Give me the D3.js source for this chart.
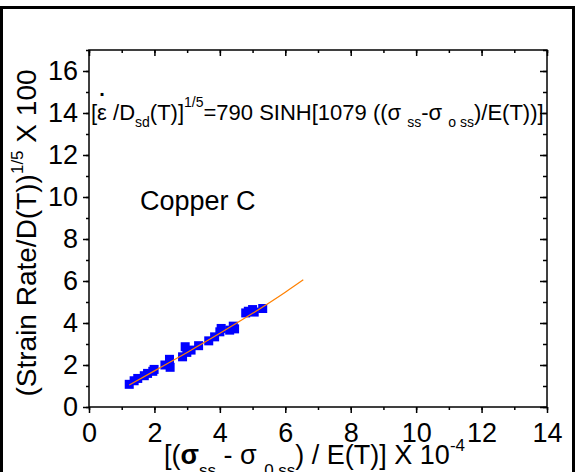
<!DOCTYPE html>
<html><head><meta charset="utf-8">
<script src="https://cdn.jsdelivr.net/npm/d3@7"></script>
<style>
html,body{margin:0;padding:0;background:#fff;}
svg{display:block;font-family:"Liberation Sans",Arial,sans-serif;}
</style></head>
<body>
<svg id="chart" width="577" height="472"></svg>
<script>
// Data
const xValues = [1.23,1.38,1.49,1.69,1.79,1.99,1.95,2.32,2.46,2.48,2.86,2.94,2.99,3.12,3.35,3.66,3.84,4.00,4.04,4.30,4.41,4.45,4.79,4.87,5.00,5.05,5.31];
const yValues = [1.08,1.25,1.36,1.49,1.60,1.79,1.70,2.00,2.27,1.89,2.39,2.87,2.60,2.71,2.92,3.15,3.34,3.58,3.74,3.66,3.85,3.72,4.48,4.56,4.64,4.52,4.69];
const fitX = [1.23,2,3,4,5,6,6.55];
const fitY = [1.05,1.72,2.60,3.51,4.46,5.47,6.06];
const xTicks = [0,2,4,6,8,10,12,14];
const yTicks = [0,2,4,6,8,10,12,14,16];
const xMinor = d3.range(0,15,1);
const yMinor = d3.range(0,18,1);

const svg = d3.select("#chart");
const L = 89, R = 547, T = 50, B = 407;
const x = d3.scaleLinear().domain([0,14]).range([L,R]);
const y = d3.scaleLinear().domain([0,17]).range([B,T]);

// outer border
svg.append("path").attr("d",`M1.5,472 V7.5 H573.5 V472`).attr("fill","none").attr("stroke","#000").attr("stroke-width",3);

// plot frame
svg.append("rect").attr("x",L).attr("y",T).attr("width",R-L).attr("height",B-T)
  .attr("fill","none").attr("stroke","#000").attr("stroke-width",1.5);

function styleAxis(g){ g.select(".domain").remove(); g.selectAll("line").attr("stroke","#000").attr("stroke-width",1.5); }

// bottom axis
svg.append("g").attr("transform",`translate(0,${B})`)
  .call(d3.axisBottom(x).tickValues(xMinor).tickSize(3).tickFormat(""))
  .call(styleAxis);
svg.append("g").attr("transform",`translate(0,${B})`)
  .call(d3.axisBottom(x).tickValues(xTicks).tickSize(6).tickPadding(10).tickFormat(d3.format("d")))
  .call(styleAxis)
  .selectAll("text").attr("font-size",27).attr("fill","#000").attr("font-family","Liberation Sans, Arial, sans-serif");
// top ticks (inward)
svg.append("g").attr("transform",`translate(0,${T})`)
  .call(d3.axisBottom(x).tickValues(xMinor).tickSize(3).tickFormat("")).call(styleAxis);
svg.append("g").attr("transform",`translate(0,${T})`)
  .call(d3.axisBottom(x).tickValues(xTicks).tickSize(6).tickFormat("")).call(styleAxis);
// left axis
svg.append("g").attr("transform",`translate(${L},0)`)
  .call(d3.axisLeft(y).tickValues(yMinor).tickSize(3).tickFormat("")).call(styleAxis);
svg.append("g").attr("transform",`translate(${L},0)`)
  .call(d3.axisLeft(y).tickValues(yTicks).tickSize(6).tickPadding(5).tickFormat(d3.format("d")))
  .call(styleAxis)
  .selectAll("text").attr("font-size",27).attr("fill","#000").attr("font-family","Liberation Sans, Arial, sans-serif");
// right ticks (inward)
svg.append("g").attr("transform",`translate(${R},0)`)
  .call(d3.axisLeft(y).tickValues(yMinor).tickSize(4).tickFormat("")).call(styleAxis);
svg.append("g").attr("transform",`translate(${R},0)`)
  .call(d3.axisLeft(y).tickValues(yTicks).tickSize(7).tickFormat("")).call(styleAxis);

// data points
const pts = xValues.map((v,i)=>({x:v,y:yValues[i]}));
const s = 9;
svg.append("g").selectAll("rect").data(pts).join("rect")
  .attr("x",d=>x(d.x)-s/2).attr("y",d=>y(d.y)-s/2).attr("width",s).attr("height",s)
  .attr("fill","#0000ff");

// fit line
const fit = fitX.map((v,i)=>({x:v,y:fitY[i]}));
svg.append("path").datum(fit)
  .attr("d",d3.line().x(d=>x(d.x)).y(d=>y(d.y)).curve(d3.curveMonotoneX))
  .attr("fill","none").attr("stroke","#ff8000").attr("stroke-width",1.2);

// Copper C
svg.append("text").attr("x",140).attr("y",210).attr("font-size",27).text("Copper C");

// equation
const eq = svg.append("text").attr("x",91).attr("y",120).attr("font-size",22);
eq.append("tspan").text("[\u03B5 /D");
eq.append("tspan").attr("font-size",14).attr("dy",7).text("sd");
eq.append("tspan").attr("dy",-7).text("(T)]");
eq.append("tspan").attr("font-size",14).attr("dy",-13).text("1/5");
eq.append("tspan").attr("dy",13).text("=790 SINH[1079 ((\u03C3 ");
eq.append("tspan").attr("font-size",14).attr("dy",7).text("ss");
eq.append("tspan").attr("dy",-7).text("-\u03C3 ");
eq.append("tspan").attr("font-size",14).attr("dy",7).text("o ss");
eq.append("tspan").attr("dy",-7).text(")/E(T))]");
// dot above epsilon
const ext = eq.node().getExtentOfChar(1);
svg.append("text").attr("x",ext.x+ext.width/2).attr("y",96).attr("text-anchor","middle")
  .attr("font-size",20).attr("font-weight","bold").text(".");

// y title
const yt = svg.append("text").attr("transform","translate(36,233) rotate(-90)")
  .attr("text-anchor","middle").attr("font-size",28);
yt.append("tspan").text("(Strain Rate/D(T))");
yt.append("tspan").attr("font-size",17).attr("dy",-13).text("1/5");
yt.append("tspan").attr("dy",13).text(" X 100");

// x title
const xt = svg.append("text").attr("x",164).attr("y",464).attr("font-size",27);
xt.append("tspan").text("[(");
xt.append("tspan").attr("font-weight","bold").text("\u03C3");
xt.append("tspan").attr("font-size",17).attr("dy",12).text("ss");
xt.append("tspan").attr("dy",-12).text(" - \u03C3 ");
xt.append("tspan").attr("font-size",17).attr("dy",12).text("0 ss");
xt.append("tspan").attr("dy",-12).text(") / E(T)] X 10");
xt.append("tspan").attr("font-size",17).attr("dy",-13).text("-4");
</script>
</body></html>
